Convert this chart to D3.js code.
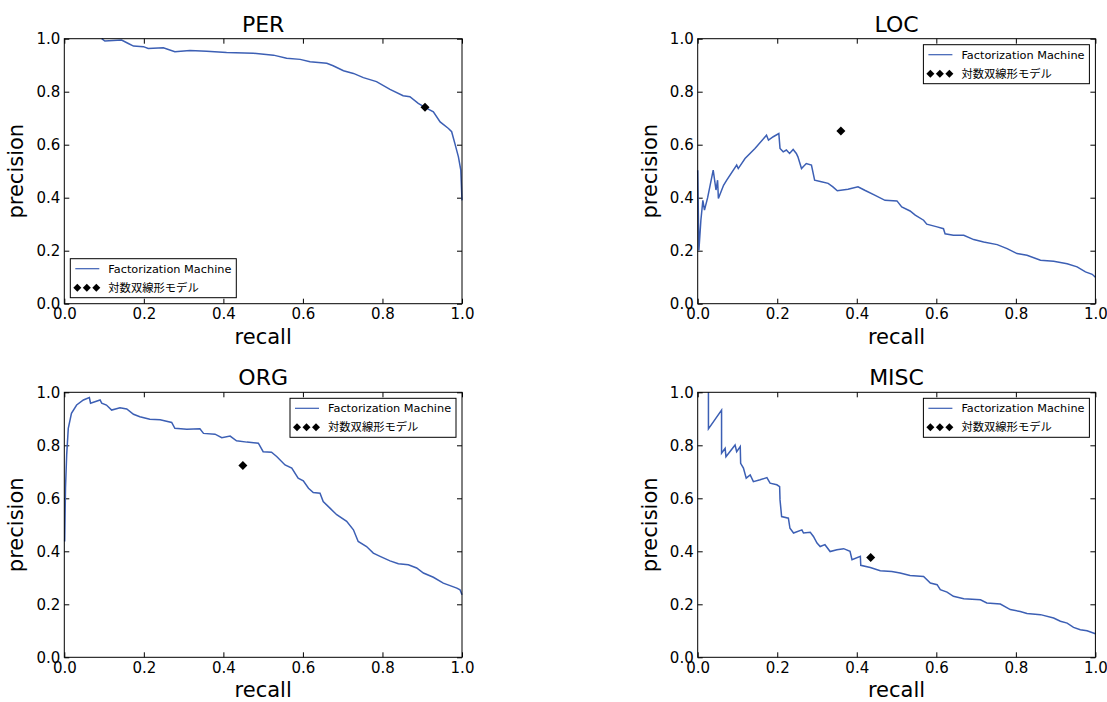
<!DOCTYPE html>
<html>
<head>
<meta charset="utf-8">
<script src="https://cdn.jsdelivr.net/npm/d3@7"></script>
<style>
  body { margin: 0; background: #fff; }
  svg text { font-family: "DejaVu Sans", sans-serif; fill: #000; }
  .jp { font-family: "Noto Sans CJK JP", "DejaVu Sans", sans-serif; }
</style>
</head>
<body>
<svg id="chart" width="1107" height="702"></svg>
<script>
// ---- data ----
var titles = ["PER", "LOC", "ORG", "MISC"];
var tickValues = [0, 0.2, 0.4, 0.6, 0.8, 1.0];
var legendLabels = ["Factorization Machine", "対数双線形モデル"];

// [recall, precision]
var perCurve = [
  [0.094,1.0],[0.102,0.991],[0.144,0.995],[0.161,0.982],[0.174,0.972],[0.199,0.970],
  [0.211,0.963],[0.249,0.966],[0.278,0.951],[0.316,0.955],[0.358,0.953],[0.408,0.948],
  [0.475,0.945],[0.526,0.938],[0.559,0.926],[0.593,0.922],[0.618,0.913],[0.660,0.907],
  [0.676,0.898],[0.702,0.879],[0.727,0.869],[0.752,0.853],[0.785,0.838],[0.819,0.809],
  [0.852,0.785],[0.869,0.781],[0.890,0.756],[0.907,0.741],[0.928,0.724],[0.945,0.686],
  [0.966,0.661],[0.974,0.649],[0.982,0.605],[0.991,0.554],[0.997,0.504],[1.0,0.39]
];
var locCurve = [
  [0.0,0.504],[0.003,0.201],[0.008,0.315],[0.013,0.39],[0.017,0.353],[0.025,0.40],
  [0.039,0.504],[0.046,0.429],[0.050,0.466],[0.052,0.397],[0.065,0.447],[0.073,0.466],
  [0.098,0.523],[0.102,0.51],[0.119,0.548],[0.144,0.586],[0.173,0.636],[0.178,0.617],
  [0.190,0.63],[0.204,0.642],[0.207,0.586],[0.215,0.573],[0.223,0.58],[0.231,0.567],
  [0.240,0.582],[0.248,0.567],[0.252,0.554],[0.261,0.51],[0.273,0.529],[0.286,0.523],
  [0.294,0.466],[0.311,0.46],[0.328,0.454],[0.340,0.441],[0.351,0.426],[0.378,0.432],
  [0.403,0.441],[0.420,0.428],[0.445,0.41],[0.471,0.39],[0.501,0.388],[0.513,0.365],
  [0.534,0.35],[0.547,0.334],[0.568,0.315],[0.576,0.30],[0.602,0.29],[0.618,0.283],
  [0.622,0.264],[0.643,0.258],[0.669,0.258],[0.694,0.242],[0.719,0.233],[0.753,0.223],
  [0.778,0.208],[0.803,0.189],[0.828,0.183],[0.862,0.164],[0.895,0.16],[0.929,0.151],
  [0.954,0.139],[0.975,0.12],[0.992,0.111],[1.0,0.10]
];
var orgCurve = [
  [0.001,0.437],[0.003,0.638],[0.006,0.764],[0.010,0.864],[0.018,0.921],[0.031,0.952],
  [0.048,0.971],[0.063,0.98],[0.066,0.959],[0.090,0.971],[0.094,0.959],[0.106,0.952],
  [0.119,0.933],[0.140,0.942],[0.157,0.937],[0.174,0.917],[0.190,0.908],[0.215,0.898],
  [0.241,0.896],[0.270,0.886],[0.278,0.864],[0.308,0.861],[0.341,0.862],[0.350,0.845],
  [0.379,0.842],[0.396,0.829],[0.417,0.835],[0.433,0.817],[0.459,0.812],[0.488,0.808],
  [0.500,0.776],[0.521,0.774],[0.534,0.758],[0.555,0.726],[0.572,0.714],[0.588,0.676],
  [0.601,0.666],[0.614,0.638],[0.626,0.622],[0.643,0.619],[0.651,0.588],[0.668,0.563],
  [0.685,0.538],[0.710,0.513],[0.727,0.481],[0.739,0.437],[0.760,0.418],[0.777,0.393],
  [0.794,0.381],[0.819,0.364],[0.840,0.353],[0.865,0.349],[0.886,0.337],[0.903,0.318],
  [0.928,0.302],[0.953,0.28],[0.987,0.261],[0.995,0.255],[1.0,0.236]
];
var miscCurve = [
  [0.027,1.0],[0.027,0.862],[0.060,0.933],[0.060,0.77],[0.069,0.789],[0.071,0.757],
  [0.094,0.801],[0.098,0.776],[0.107,0.795],[0.108,0.732],[0.115,0.714],[0.122,0.676],
  [0.132,0.688],[0.140,0.663],[0.157,0.67],[0.174,0.678],[0.182,0.657],[0.199,0.651],
  [0.206,0.644],[0.207,0.594],[0.211,0.531],[0.228,0.525],[0.232,0.487],[0.241,0.469],
  [0.262,0.481],[0.266,0.469],[0.283,0.472],[0.291,0.456],[0.300,0.431],[0.308,0.418],
  [0.320,0.425],[0.333,0.399],[0.350,0.406],[0.367,0.41],[0.383,0.40],[0.388,0.368],
  [0.409,0.381],[0.410,0.347],[0.434,0.339],[0.459,0.327],[0.488,0.324],[0.509,0.318],
  [0.534,0.309],[0.568,0.305],[0.585,0.28],[0.602,0.274],[0.610,0.255],[0.627,0.246],
  [0.643,0.23],[0.669,0.221],[0.711,0.217],[0.727,0.205],[0.761,0.201],[0.786,0.18],
  [0.811,0.173],[0.828,0.165],[0.862,0.161],[0.895,0.148],[0.912,0.136],[0.929,0.129],
  [0.945,0.113],[0.962,0.104],[0.979,0.10],[1.0,0.089]
];
var curves = [perCurve, locCurve, orgCurve, miscCurve];

// single point of the log-bilinear model per class
var bilinearPoints = [[0.907,0.741],[0.36,0.652],[0.449,0.724],[0.435,0.377]];

// ---- layout ----
var svg = d3.select("#chart");
var plotW = 397.7, plotH = 265;
var origins = [[64.3,38.7],[697.7,38.7],[64.3,392.3],[697.7,392.3]];
var legendPos = ["lowerleft","upperright","upperright","upperright"];
var lineColor = "#3c5fb4";

// matplotlib style "D" marker: a square turned 45 degrees
function diamond(r) {
  return "M0," + (-r) + "L" + r + ",0L0," + r + "L" + (-r) + ",0Z";
}

function drawPanel(i) {
  var ox = origins[i][0], oy = origins[i][1];
  var x = d3.scaleLinear().domain([0,1]).range([0, plotW]);
  var y = d3.scaleLinear().domain([0,1]).range([plotH, 0]);
  var g = svg.append("g").attr("transform", "translate(" + ox + "," + oy + ")");

  // axes with inward ticks on every side
  var fmt = d3.format(".1f");
  g.append("g").attr("transform", "translate(0," + plotH + ")")
    .call(d3.axisBottom(x).tickValues(tickValues).tickFormat(fmt).tickSizeInner(-5).tickSizeOuter(0).tickPadding(5));
  g.append("g")
    .call(d3.axisLeft(y).tickValues(tickValues).tickFormat(fmt).tickSizeInner(-5).tickSizeOuter(0).tickPadding(4));
  g.append("g").call(d3.axisTop(x).tickValues(tickValues).tickFormat("").tickSizeInner(-5).tickSizeOuter(0));
  g.append("g").attr("transform", "translate(" + plotW + ",0)")
    .call(d3.axisRight(y).tickValues(tickValues).tickFormat("").tickSizeInner(-5).tickSizeOuter(0));
  g.selectAll(".domain").remove();
  g.selectAll(".tick line").attr("stroke", "#000");
  g.selectAll(".tick text").style("font-size", "15px").style("font-family", "DejaVu Sans");

  // curve
  var line = d3.line().x(function(d){ return x(d[0]); }).y(function(d){ return y(d[1]); });
  g.append("path").datum(curves[i])
    .attr("d", line)
    .attr("fill", "none")
    .attr("stroke", lineColor)
    .attr("stroke-width", 1.5);

  // model point
  g.append("path")
    .attr("d", diamond(4.5))
    .attr("transform", "translate(" + x(bilinearPoints[i][0]) + "," + y(bilinearPoints[i][1]) + ")")
    .attr("fill", "#000");

  // frame
  g.append("rect").attr("width", plotW).attr("height", plotH)
    .attr("fill", "none").attr("stroke", "#000").attr("stroke-width", 1);

  // labels
  g.append("text").text(titles[i])
    .attr("x", plotW/2).attr("y", -7)
    .attr("text-anchor", "middle").style("font-size", "22px");
  g.append("text").text("recall")
    .attr("x", plotW/2).attr("y", plotH + 40)
    .attr("text-anchor", "middle").style("font-size", "21px");
  g.append("text").text("precision")
    .attr("transform", "translate(-41," + (plotH/2) + ") rotate(-90)")
    .attr("text-anchor", "middle").style("font-size", "21px");

  // legend
  var lw = 166, lh = 39;
  var lx = legendPos[i] == "lowerleft" ? 6 : plotW - lw - 6;
  var ly = legendPos[i] == "lowerleft" ? plotH - lh - 6 : 6;
  var leg = g.append("g").attr("transform", "translate(" + lx + "," + ly + ")");
  leg.append("rect").attr("width", lw).attr("height", lh)
    .attr("fill", "#fff").attr("stroke", "#000").attr("stroke-width", 1);
  leg.append("line").attr("x1", 5).attr("x2", 29).attr("y1", 10).attr("y2", 10)
    .attr("stroke", lineColor).attr("stroke-width", 1.2);
  leg.selectAll(".mk").data([7, 16.5, 26]).enter().append("path")
    .attr("class", "mk")
    .attr("d", diamond(4))
    .attr("transform", function(d){ return "translate(" + d + ",29)"; })
    .attr("fill", "#000");
  leg.append("text").text(legendLabels[0])
    .attr("x", 38).attr("y", 14).style("font-size", "11.3px");
  leg.append("text").attr("class", "jp").text(legendLabels[1])
    .attr("x", 38).attr("y", 33).style("font-size", "11.3px");
}

for (var i = 0; i < 4; i++) {
  drawPanel(i);
}
</script>
</body>
</html>
